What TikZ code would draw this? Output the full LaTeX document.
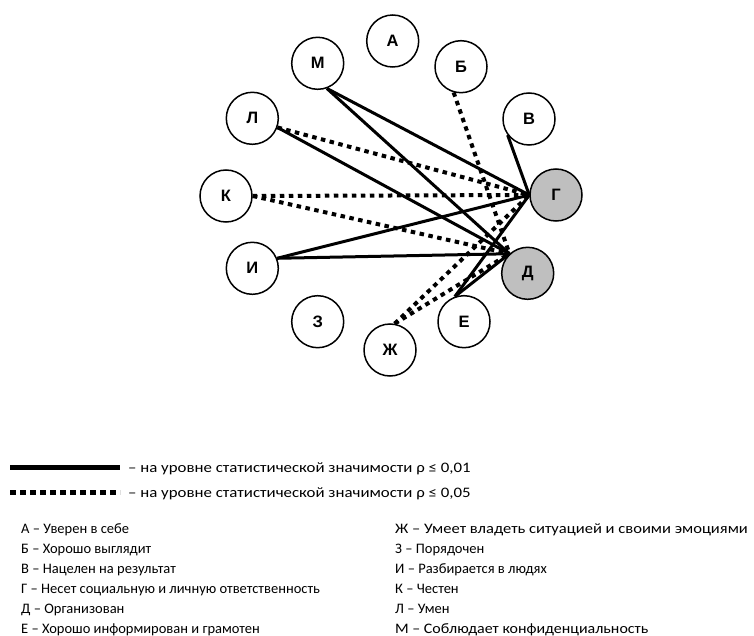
\documentclass[tikz,border=0pt]{standalone}
\usepackage{fontspec}
\setmainfont{Liberation Sans}
\newfontfamily\legfont{Carlito}
\begin{document}
\begin{tikzpicture}[x=1pt,y=-1pt,
  vn/.style={circle,draw,line width=1.5pt,minimum size=52pt,inner sep=0pt,font=\fontsize{16.5}{16.5}\selectfont\bfseries},
  hn/.style={vn,fill=black!25},
  sl/.style={line width=3pt},
  dl/.style={line width=4pt,dash pattern=on 4.5pt off 4.5pt},
  lg/.style={anchor=base west,inner sep=0pt,font=\legfont\fontsize{14.5}{14.5}\selectfont}]
\useasboundingbox (0,0) rectangle (754,636);
% nodes
\node[vn] (nA) at (392.7,41) {А};
\node[vn] (nM) at (317.7,63.3) {М};
\node[vn] (nB) at (461,66.7) {Б};
\node[vn] (nL) at (252.3,118.3) {Л};
\node[vn] (nV) at (529,119) {В};
\node[vn] (nK) at (226,196) {К};
\node[hn] (nG) at (556,195) {Г};
\node[vn] (nI) at (252.3,268.3) {И};
\node[hn] (nD) at (527.7,273.3) {Д};
\node[vn] (nZ) at (317.7,321.7) {З};
\node[vn] (nE) at (464,321.7) {Е};
\node[vn] (nJ) at (390,350) {Ж};
% solid edges
\draw[sl] (nM.-70) -- (nG.180);
\draw[sl] (nM.-70) -- (nD.133);
\draw[sl] (nL.-20) -- (nD.133);
\draw[sl] (nI.22) -- (nG.180);
\draw[sl] (nI.22) -- (nD.133);
\draw[sl] (nV.-143) -- (nG.180);
\draw[sl] (nE.110) -- (nG.180);
\draw[sl] (nE.110) -- (nD.133);
% dotted edges
\draw[dl] (nL.-20) -- (nG.180);
\draw[dl] (nK.0) -- (nG.180);
\draw[dl] (nK.0) -- (nD.133);
\draw[dl] (nB.-106) -- (nD.133);
\draw[dl] (nJ.80) -- (nG.180);
\draw[dl] (nJ.80) -- (nD.133);
% legend
\coordinate (s1) at (10,467);
\coordinate (s2) at (120,467);
\coordinate (d1) at (10,492);
\coordinate (d2) at (120,492);
\draw[line width=5pt] (s1) -- (s2);
\draw[line width=5pt,dash pattern=on 6pt off 4pt] (d1) -- (d2);
\node[lg] (t1) at (128,472) {\scalebox{1.16}[1]{– на уровне статистической значимости ρ ≤ 0,01}};
\node[lg] (t2) at (128,497) {\scalebox{1.16}[1]{– на уровне статистической значимости ρ ≤ 0,05}};
\node[lg] (la) at (21,533) {А – Уверен в себе};
\node[lg] (lb) at (21,553) {Б – Хорошо выглядит};
\node[lg] (lv) at (21,573) {В – Нацелен на результат};
\node[lg] (lg) at (21,593) {Г – Несет социальную и личную ответственность};
\node[lg] (ld) at (21,613) {Д – Организован};
\node[lg] (le) at (21,633) {Е – Хорошо информирован и грамотен};
\node[lg] (lj) at (395,533) {\scalebox{1.14}[1]{Ж – Умеет владеть ситуацией и своими эмоциями}};
\node[lg] (lz) at (395,553) {З – Порядочен};
\node[lg] (li) at (395,573) {И – Разбирается в людях};
\node[lg] (lk) at (395,593) {К – Честен};
\node[lg] (ll) at (395,613) {Л – Умен};
\node[lg] (lm) at (395,633) {\scalebox{1.1}[1]{М – Соблюдает конфиденциальность}};
\end{tikzpicture}
\end{document}
